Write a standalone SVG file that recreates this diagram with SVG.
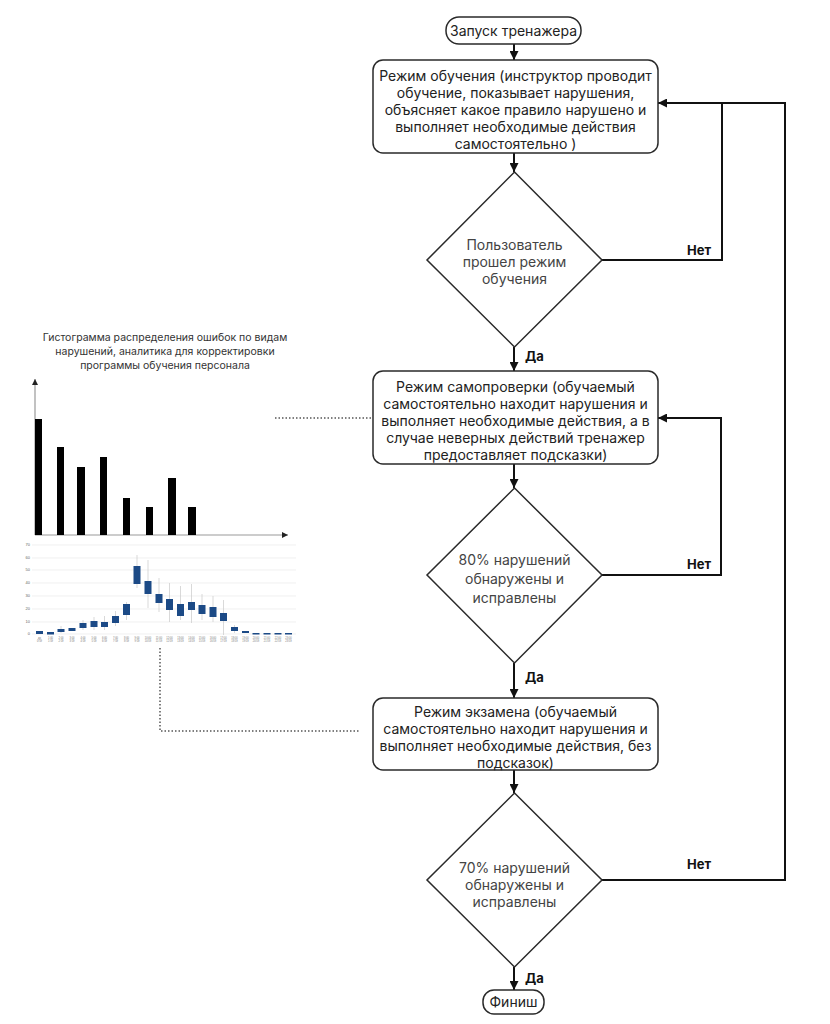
<svg xmlns="http://www.w3.org/2000/svg" width="830" height="1024" viewBox="0 0 830 1024">
<defs>
<marker id="ah" viewBox="0 0 10 10" refX="10" refY="5" markerWidth="9" markerHeight="9" markerUnits="userSpaceOnUse" orient="auto"><path d="M0,0 L10,5 L0,10 z" fill="#111"/></marker>
<marker id="ax" viewBox="0 0 10 10" refX="10" refY="5" markerWidth="6" markerHeight="6" markerUnits="userSpaceOnUse" orient="auto"><path d="M0,0 L10,5 L0,10 z" fill="#222"/></marker>
<style>
.box{fill:#fff;stroke:#2a2a2a;stroke-width:1.5}
.t{font-family:Inter,"Noto Sans",sans-serif;font-size:14px;fill:#222;text-anchor:middle}
.d{font-family:Inter,"Noto Sans",sans-serif;font-size:14px;fill:#444;text-anchor:middle}
.lab{font-family:Inter,"Noto Sans",sans-serif;font-size:13px;font-weight:bold;fill:#111}
.flow{fill:none;stroke:#111;stroke-width:2}
.dot{fill:none;stroke:#555;stroke-width:1.5;stroke-dasharray:1.5 2}
.cap{font-family:Inter,"Noto Sans",sans-serif;font-size:10.5px;fill:#333;text-anchor:middle}
.bar{fill:#000}
.c{fill:#1c4a86}
.w{stroke:#c8c8c8;stroke-width:0.7}
.g{stroke:#e6e6e6;stroke-width:0.6}
.yl{font-family:"Liberation Sans",sans-serif;font-size:4px;fill:#666;text-anchor:end}
.xl{font-family:"Liberation Sans",sans-serif;font-size:2.6px;fill:#777;text-anchor:middle}
</style>
</defs>
<rect width="830" height="1024" fill="#fff"/>

<g id="connectors">
<line class="flow" x1="514" y1="44" x2="514" y2="60" marker-end="url(#ah)"/>
<line class="flow" x1="514" y1="153" x2="514" y2="172" marker-end="url(#ah)"/>
<line class="flow" x1="514" y1="347" x2="514" y2="371" marker-end="url(#ah)"/>
<line class="flow" x1="514" y1="464" x2="514" y2="488" marker-end="url(#ah)"/>
<line class="flow" x1="514" y1="663" x2="514" y2="698" marker-end="url(#ah)"/>
<line class="flow" x1="514" y1="770" x2="514" y2="793" marker-end="url(#ah)"/>
<line class="flow" x1="514" y1="967" x2="514" y2="990" marker-end="url(#ah)"/>
<polyline class="flow" points="602,260 722,260 722,103"/>
<polyline class="flow" points="602,575 721,575 721,418 658,418" marker-end="url(#ah)"/>
<polyline class="flow" points="602,880 785,880 785,103 658,103" marker-end="url(#ah)"/>
<text class="lab" x="687" y="255">Нет</text>
<text class="lab" x="687" y="569">Нет</text>
<text class="lab" x="687" y="869">Нет</text>
<text class="lab" x="525" y="361">Да</text>
<text class="lab" x="525" y="682">Да</text>
<text class="lab" x="525" y="983">Да</text>
<polyline class="dot" points="275,418 372,418"/>
<polyline class="dot" points="160,648 160,731 360,731"/>
</g>

<g id="start">
<rect class="box" x="446" y="17" width="135" height="27" rx="13"/>
<text class="t" x="513.5" y="36">Запуск тренажера</text>
</g>

<g id="training">
<rect class="box" x="373" y="60" width="285" height="93" rx="10"/>
<text class="t" x="515.5" y="81">Режим обучения (инструктор проводит</text>
<text class="t" x="515.5" y="98">обучение, показывает нарушения,</text>
<text class="t" x="515.5" y="115">объясняет какое правило нарушено и</text>
<text class="t" x="515.5" y="132">выполняет необходимые действия</text>
<text class="t" x="515.5" y="149">самостоятельно )</text>
</g>

<g id="dec1">
<polygon class="box" points="514.5,172 602,260 514.5,347 427,260"/>
<text class="d" x="514.5" y="250">Пользователь</text>
<text class="d" x="514.5" y="267">прошел режим</text>
<text class="d" x="514.5" y="284">обучения</text>
</g>

<g id="selfcheck">
<rect class="box" x="373" y="371" width="285" height="93" rx="10"/>
<text class="t" x="515.5" y="392">Режим самопроверки (обучаемый</text>
<text class="t" x="515.5" y="409">самостоятельно находит нарушения и</text>
<text class="t" x="515.5" y="426">выполняет необходимые действия, а в</text>
<text class="t" x="515.5" y="443">случае неверных действий тренажер</text>
<text class="t" x="515.5" y="460">предоставляет подсказки)</text>
</g>

<g id="dec2">
<polygon class="box" points="514.5,488 602,575 514.5,663 427,575"/>
<text class="d" x="514.5" y="565">80% нарушений</text>
<text class="d" x="514.5" y="584">обнаружены и</text>
<text class="d" x="514.5" y="603">исправлены</text>
</g>

<g id="exam">
<rect class="box" x="373" y="698" width="285" height="72" rx="10"/>
<text class="t" x="515.5" y="717">Режим экзамена (обучаемый</text>
<text class="t" x="515.5" y="734">самостоятельно находит нарушения и</text>
<text class="t" x="515.5" y="751">выполняет необходимые действия, без</text>
<text class="t" x="515.5" y="768">подсказок)</text>
</g>

<g id="dec3">
<polygon class="box" points="514.5,793 602,880 514.5,967 427,880"/>
<text class="d" x="514.5" y="873">70% нарушений</text>
<text class="d" x="514.5" y="890">обнаружены и</text>
<text class="d" x="514.5" y="907">исправлены</text>
</g>

<g id="finish">
<rect class="box" x="483" y="990" width="61" height="24" rx="11"/>
<text class="t" x="513.5" y="1007">Финиш</text>
</g>

<g id="histogram">
<text class="cap" x="165" y="341">Гистограмма распределения ошибок по видам</text>
<text class="cap" x="165" y="355">нарушений, аналитика для корректировки</text>
<text class="cap" x="165" y="369">программы обучения персонала</text>
<line x1="35" y1="535" x2="35" y2="379" stroke="#999" stroke-width="1.2" marker-end="url(#ax)"/>
<line x1="35" y1="535" x2="288" y2="535" stroke="#999" stroke-width="1.2" marker-end="url(#ax)"/>
<rect class="bar" x="35" y="419" width="7" height="116"/>
<rect class="bar" x="57" y="447" width="7" height="88"/>
<rect class="bar" x="77" y="467" width="8" height="68"/>
<rect class="bar" x="100" y="457" width="7" height="78"/>
<rect class="bar" x="123" y="498" width="7" height="37"/>
<rect class="bar" x="146" y="507" width="7" height="28"/>
<rect class="bar" x="168" y="478" width="8" height="57"/>
<rect class="bar" x="188" y="507" width="8" height="28"/>
</g>

<g id="candlechart">
<rect x="22" y="540" width="276" height="106" fill="#fff"/>
<line class="g" x1="32" y1="545" x2="296" y2="545"/>
<line class="g" x1="32" y1="558" x2="296" y2="558"/>
<line class="g" x1="32" y1="570" x2="296" y2="570"/>
<line class="g" x1="32" y1="583" x2="296" y2="583"/>
<line class="g" x1="32" y1="596" x2="296" y2="596"/>
<line class="g" x1="32" y1="609" x2="296" y2="609"/>
<line class="g" x1="32" y1="622" x2="296" y2="622"/>
<line class="g" x1="32" y1="634" x2="296" y2="634"/>
<text class="yl" x="30" y="546">70</text>
<text class="yl" x="30" y="559">60</text>
<text class="yl" x="30" y="571">50</text>
<text class="yl" x="30" y="584">40</text>
<text class="yl" x="30" y="597">30</text>
<text class="yl" x="30" y="610">20</text>
<text class="yl" x="30" y="623">10</text>
<text class="yl" x="30" y="635">0</text>
<line class="w" x1="61" y1="626" x2="61" y2="633"/>
<line class="w" x1="83" y1="620" x2="83" y2="630"/>
<line class="w" x1="94" y1="617" x2="94" y2="630"/>
<line class="w" x1="104.5" y1="616" x2="104.5" y2="630"/>
<line class="w" x1="115.5" y1="611" x2="115.5" y2="626"/>
<line class="w" x1="126.5" y1="602" x2="126.5" y2="620"/>
<line class="w" x1="137" y1="555" x2="137" y2="588"/>
<line class="w" x1="148" y1="560" x2="148" y2="608"/>
<line class="w" x1="159" y1="578" x2="159" y2="612"/>
<line class="w" x1="169.5" y1="583" x2="169.5" y2="622"/>
<line class="w" x1="180.5" y1="586" x2="180.5" y2="620"/>
<line class="w" x1="191.5" y1="584" x2="191.5" y2="623"/>
<line class="w" x1="202" y1="594" x2="202" y2="620"/>
<line class="w" x1="213" y1="596" x2="213" y2="622"/>
<line class="w" x1="223.5" y1="600" x2="223.5" y2="635"/>
<line class="w" x1="234.5" y1="625" x2="234.5" y2="633"/>
<rect class="c" x="36" y="631" width="7" height="3"/>
<rect class="c" x="47" y="632" width="7" height="2.5"/>
<rect class="c" x="57.5" y="629" width="7" height="3"/>
<rect class="c" x="68.5" y="628" width="7" height="3"/>
<rect class="c" x="79.5" y="623" width="7" height="5"/>
<rect class="c" x="90.5" y="621" width="7" height="6"/>
<rect class="c" x="101" y="622" width="7" height="5"/>
<rect class="c" x="112" y="616" width="7" height="7"/>
<rect class="c" x="123" y="604" width="7" height="11"/>
<rect class="c" x="133.5" y="566" width="7" height="18"/>
<rect class="c" x="144.5" y="581" width="7" height="13"/>
<rect class="c" x="155.5" y="594" width="7" height="9"/>
<rect class="c" x="166" y="599" width="7" height="11"/>
<rect class="c" x="177" y="604" width="7" height="12"/>
<rect class="c" x="188" y="602" width="7" height="8"/>
<rect class="c" x="198.5" y="605" width="7" height="9"/>
<rect class="c" x="209.5" y="607" width="7" height="10"/>
<rect class="c" x="220" y="613" width="7" height="8"/>
<rect class="c" x="231" y="627" width="7" height="4"/>
<rect class="c" x="242" y="631" width="7" height="2"/>
<rect class="c" x="252.5" y="633" width="7" height="1.5"/>
<rect class="c" x="263.5" y="633" width="7" height="1.5"/>
<rect class="c" x="274.5" y="633" width="7" height="1.5"/>
<rect class="c" x="285" y="633" width="7" height="1.5"/>
<g class="xl">
<text x="39.5" y="639">до</text><text x="39.5" y="642">0:59</text>
<text x="50.5" y="639">1:00</text><text x="50.5" y="642">1:59</text>
<text x="61" y="639">2:00</text><text x="61" y="642">2:59</text>
<text x="72" y="639">3:00</text><text x="72" y="642">3:59</text>
<text x="83" y="639">4:00</text><text x="83" y="642">4:59</text>
<text x="94" y="639">5:00</text><text x="94" y="642">5:59</text>
<text x="104.5" y="639">6:00</text><text x="104.5" y="642">6:59</text>
<text x="115.5" y="639">7:00</text><text x="115.5" y="642">7:59</text>
<text x="126.5" y="639">8:00</text><text x="126.5" y="642">8:59</text>
<text x="137" y="639">9:00</text><text x="137" y="642">9:59</text>
<text x="148" y="639">10:00</text><text x="148" y="642">10:59</text>
<text x="159" y="639">11:00</text><text x="159" y="642">11:59</text>
<text x="169.5" y="639">12:00</text><text x="169.5" y="642">12:59</text>
<text x="180.5" y="639">13:00</text><text x="180.5" y="642">13:59</text>
<text x="191.5" y="639">14:00</text><text x="191.5" y="642">14:59</text>
<text x="202" y="639">15:00</text><text x="202" y="642">15:59</text>
<text x="213" y="639">16:00</text><text x="213" y="642">16:59</text>
<text x="223.5" y="639">17:00</text><text x="223.5" y="642">17:59</text>
<text x="234.5" y="639">18:00</text><text x="234.5" y="642">18:59</text>
<text x="245.5" y="639">19:00</text><text x="245.5" y="642">19:59</text>
<text x="256" y="639">20:00</text><text x="256" y="642">20:59</text>
<text x="267" y="639">21:00</text><text x="267" y="642">21:59</text>
<text x="278" y="639">22:00</text><text x="278" y="642">22:59</text>
<text x="288.5" y="639">23:00</text><text x="288.5" y="642">23:59</text>
</g>
</g>
</svg>
